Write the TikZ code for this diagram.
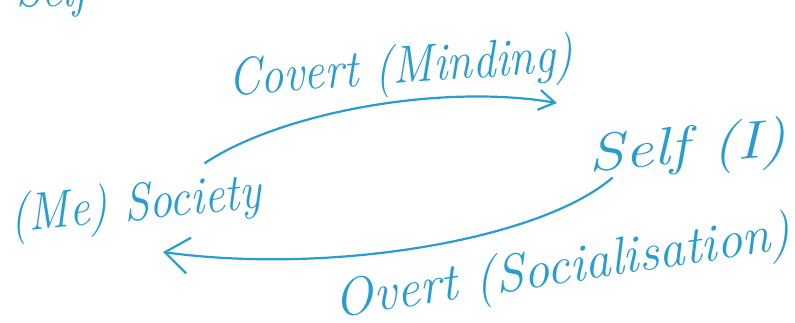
\documentclass[tikz,border=0pt]{standalone}
\usetikzlibrary{arrows.meta,calc}
\definecolor{ink}{RGB}{40,158,208}
\begin{document}
\begin{tikzpicture}[x=1pt,y=-1pt,
  hand/.style={text=ink, font=\fontsize{46}{50}\selectfont\itshape, inner sep=0pt, yscale=1.15},
  link/.style={draw=ink, line width=2.2pt, line cap=round, line join=round}]
\useasboundingbox (0,0) rectangle (795,322);
\clip (0,0) rectangle (795,322);

% line above, mostly off the page
\node[hand, anchor=base west] (prev) at (16,6) {Self};

% the two poles
\node[hand, rotate=5] (soc) at (136,207) {(Me) Society};
\node[hand, rotate=4, xscale=1.4] (self) at (688,150) {Self (I)};

% labels of the two processes
\node[hand, rotate=3.5] (covert) at (401,70) {Covert (Minding)};
\node[hand, rotate=7.5, xscale=1.12] (overt) at (563,270) {Overt (Socialisation)};

% ends of the connectors, placed off the poles
\coordinate (covA) at ($(soc.center)+(69,-44)$);
\coordinate (covB) at ($(self.center)+(-131,-47)$);
\coordinate (ovA) at ($(self.center)+(-76,28)$);
\coordinate (ovB) at ($(soc.center)+(27,45)$);

% covert: society -> self, above
\draw[link, -{Straight Barb[length=16pt,width=20pt]}]
  (covA) .. controls ($(covA)+(75,-50)$) and ($(covB)+(-117,-20)$) .. (covB);
% overt: self -> society, below
\draw[link, -{Straight Barb[length=24pt,width=36pt]}]
  (ovA) .. controls ($(ovA)+(-72,62)$) and ($(ovB)+(167,23)$) .. (ovB);
\end{tikzpicture}
\end{document}
